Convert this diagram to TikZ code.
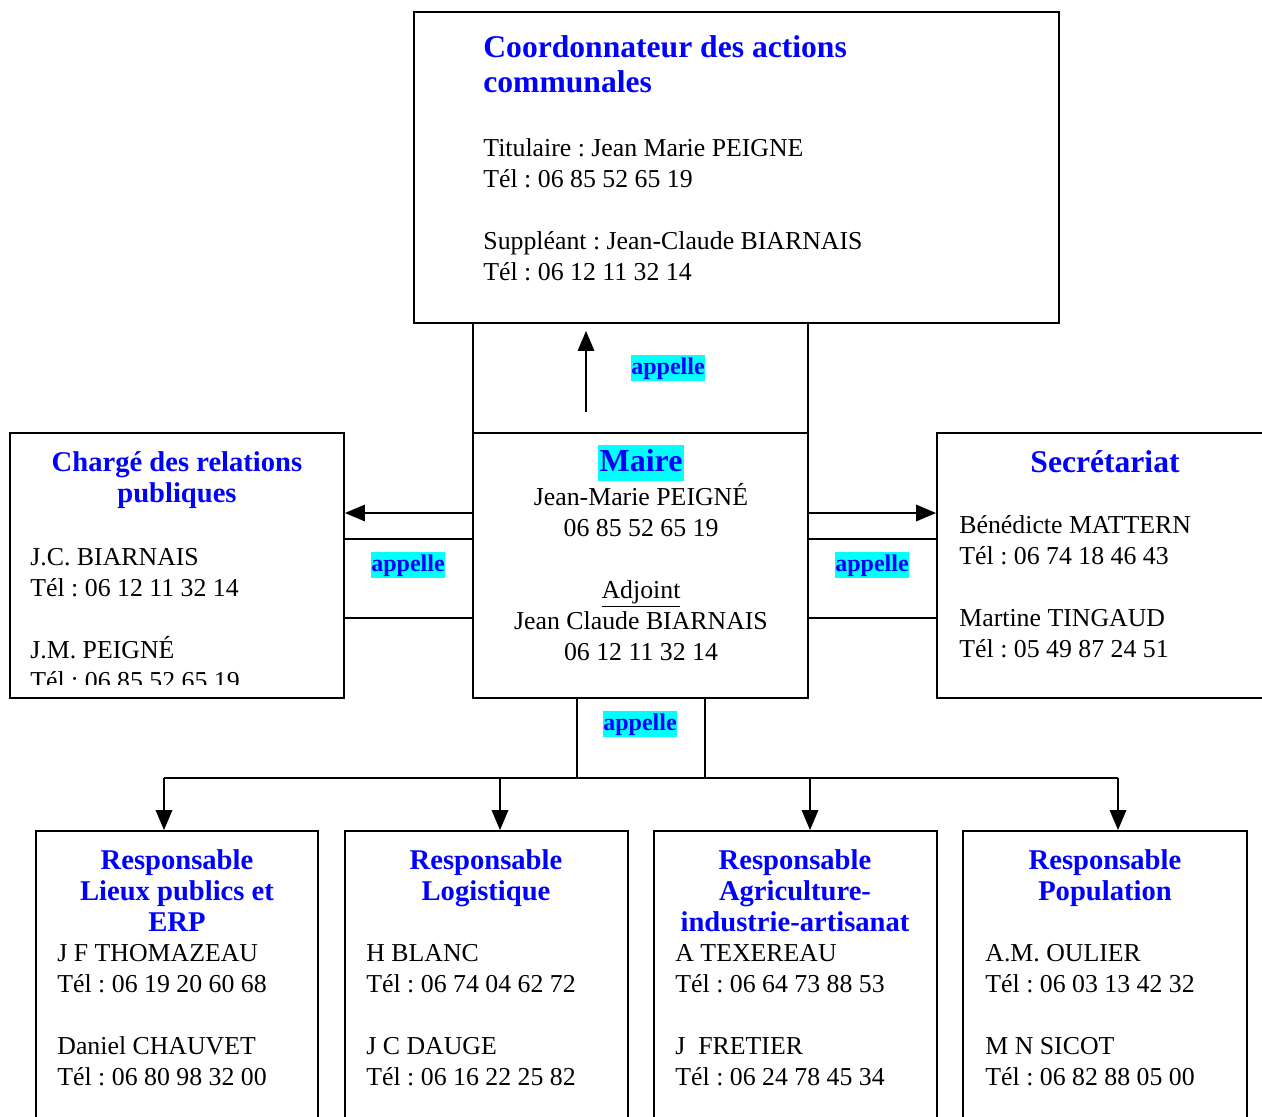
\documentclass[tikz,border=0pt]{standalone}
\usepackage{fontspec}
\setmainfont{Liberation Serif}
\frenchspacing
\usetikzlibrary{arrows}
\usetikzlibrary{fit}
\definecolor{titreBleu}{RGB}{0,0,255}
\definecolor{surligne}{RGB}{0,255,255}
\tikzset{
  cadre/.style={draw,line width=1pt,inner sep=0pt},
  titre/.style={text=titreBleu,font=\bfseries\fontsize{14.3}{15.4}\selectfont,align=center,inner sep=0pt,anchor=north},
  corps/.style={font=\fontsize{12.9}{15.5}\selectfont,align=left,inner sep=0pt,anchor=north west},
  appel/.style={text=titreBleu,fill=surligne,font=\bfseries\fontsize{12}{14}\selectfont,inner xsep=0pt,inner ysep=0.4pt,text height=9.2pt,text depth=3.2pt},
  fleche/.style={->,line width=1.3pt}
}
\begin{document}
\begin{tikzpicture}[line cap=butt,line join=miter,>=triangle 45,x=0.5pt,y=-0.5pt]
\useasboundingbox (0,0) rectangle (1262,1116);
% coordonnateur
\node[cadre,fit={(414,12) (1059,323)}] (coord) {};
\node[titre,anchor=north west,align=left,font=\bfseries\fontsize{15.8}{17.25}\selectfont] (coordTitre) at (483,33) {\strut Coordonnateur des actions\\communales};
\node[corps] (coordCorps) at (483,134) {\strut Titulaire : Jean Marie PEIGNE\\Tél : 06 85 52 65 19\\[15.5pt]Suppléant : Jean-Claude BIARNAIS\\Tél : 06 12 11 32 14};
%
\node[cadre,fit={(473,323) (808,433)}] (appelHaut) {};
\node[appel] (appelHautTxt) at (668,368) {appelle};
\coordinate (montQueue) at (586,412);
\coordinate (montPointe) at (586,331);
\draw[fleche] (montQueue) -- (montPointe);
% maire
\node[cadre,fit={(473,433) (808,698)}] (maire) {};
\node[text=titreBleu,fill=surligne,font=\bfseries\fontsize{16}{18}\selectfont,inner xsep=1pt,inner ysep=0.3pt,text height=13pt,text depth=4.5pt] (maireTitre) at (641,463) {Maire};
\node[corps,anchor=north,align=center] (maireCorps) at (641,483) {\strut Jean-Marie PEIGNÉ\\06 85 52 65 19\\[15.5pt]\underline{Adjoint}\\Jean Claude BIARNAIS\\06 12 11 32 14};
% relations publiques
\node[cadre,fit={(10,433) (344,698)}] (charge) {};
\node[titre,font=\bfseries\fontsize{14.3}{15.5}\selectfont] (chargeTitre) at (177,449) {\strut Chargé des relations\\publiques};
\begin{scope}
\clip (10,433) rectangle (344,684);
\node[corps] (chargeCorps) at (30,543) {\strut J.C. BIARNAIS\\Tél : 06 12 11 32 14\\[15.5pt]J.M. PEIGNÉ\\Tél : 06 85 52 65 19};
\end{scope}
\node[cadre,fit={(344,539) (473,618)}] (appelGauche) {};
\node[appel] (appelGaucheTxt) at (408,565) {appelle};
% secretariat
\node[cadre,fit={(937,433) (1275,698)}] (secr) {};
\node[titre,anchor=base,font=\bfseries\fontsize{15.8}{17}\selectfont] (secrTitre) at (1105,472) {Secrétariat};
\node[corps] (secrCorps) at (959,511) {\strut Bénédicte MATTERN\\Tél : 06 74 18 46 43\\[15.5pt]Martine TINGAUD\\Tél : 05 49 87 24 51};
\node[cadre,fit={(808,539) (937,618)}] (appelDroite) {};
\node[appel] (appelDroiteTxt) at (872,565) {appelle};
%
\coordinate (niveau) at (0,513);
\draw[fleche] (maire.west |- niveau) -- (charge.east |- niveau);
\draw[fleche] (maire.east |- niveau) -- (secr.west |- niveau);
% vers les responsables
\node[cadre,fit={(577,698) (705,778)}] (appelBas) {};
\node[appel] (appelBasTxt) at (640,724) {appelle};
\coordinate (busG) at (164,778);
\coordinate (busD) at (1118,778);
\draw[line width=1pt] (busG) -- (busD);
%
\node[cadre,fit={(36,831) (318,1130)}] (lieux) {};
\node[cadre,fit={(345,831) (628,1130)}] (logis) {};
\node[cadre,fit={(654,831) (937,1130)}] (agri) {};
\node[cadre,fit={(963,831) (1247,1130)}] (popu) {};
\foreach \x/\b in {164/lieux,500/logis,810/agri,1118/popu}
  \draw[fleche] (\x,778) -- (\b.north -| \x,0);
%
\node[titre] (lieuxTitre) at (177,848) {\strut Responsable\\Lieux publics et\\ERP};
\node[titre] (logisTitre) at (486,848) {\strut Responsable\\Logistique};
\node[titre] (agriTitre) at (795,848) {\strut Responsable\\Agriculture-\\industrie-artisanat};
\node[titre] (popuTitre) at (1105,848) {\strut Responsable\\Population};
%
\node[corps] (lieuxCorps) at (57,939) {\strut J F THOMAZEAU\\Tél : 06 19 20 60 68\\[15.5pt]Daniel CHAUVET\\Tél : 06 80 98 32 00};
\node[corps] (logisCorps) at (366,939) {\strut H BLANC\\Tél : 06 74 04 62 72\\[15.5pt]J C DAUGE\\Tél : 06 16 22 25 82};
\node[corps] (agriCorps) at (675,939) {\strut A TEXEREAU\\Tél : 06 64 73 88 53\\[15.5pt]J\ \ FRETIER\\Tél : 06 24 78 45 34};
\node[corps] (popuCorps) at (985,939) {\strut A.M. OULIER\\Tél : 06 03 13 42 32\\[15.5pt]M N SICOT\\Tél : 06 82 88 05 00};
\end{tikzpicture}
\end{document}
